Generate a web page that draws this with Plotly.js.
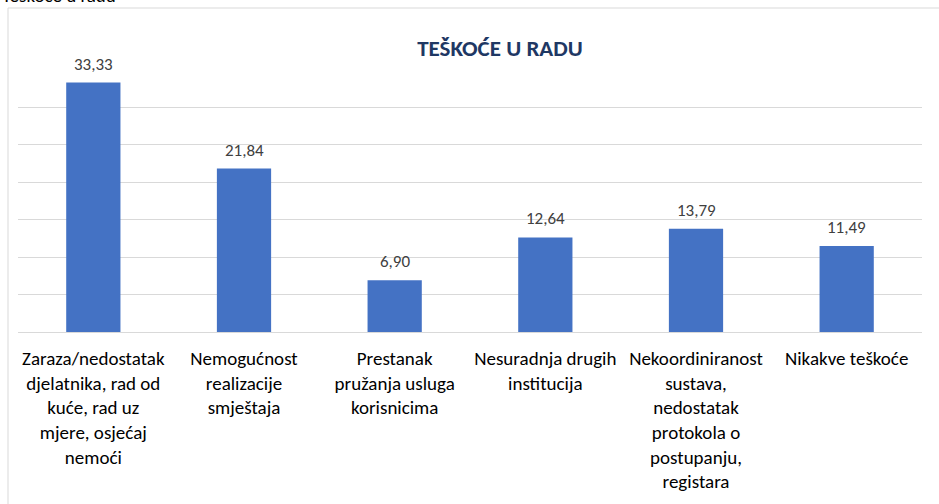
<!DOCTYPE html>
<html>
<head>
<meta charset="utf-8">
<script src="https://cdn.plot.ly/plotly-3.0.1.min.js"></script>
<style>html,body{margin:0;padding:0;background:#fff;}#chart{width:939px;height:504px;}</style>
</head>
<body>
<div id="chart"></div>
<script>
const categories = [
  "Zaraza/nedostatak<br>djelatnika, rad od<br>kuće, rad uz<br>mjere, osjećaj<br>nemoći",
  "Nemogućnost<br>realizacije<br>smještaja",
  "Prestanak<br>pružanja usluga<br>korisnicima",
  "Nesuradnja drugih<br>institucija",
  "Nekoordiniranost<br>sustava,<br>nedostatak<br>protokola o<br>postupanju,<br>registara",
  "Nikakve teškoće"
];
const values = [33.33, 21.84, 6.90, 12.64, 13.79, 11.49];
const chartTitle = "TEŠKOĆE U RADU";
const topText = "Teškoće u radu";

const FONT = "Carlito, Calibri, Lato, 'Liberation Sans', Arial, sans-serif";
const W = 939, H = 504;
const L = 18, R = 922, T = 70, B = 332;
const px = x => (x - L) / (R - L);
const py = y => (B - y) / (B - T);

const fmt = v => v.toFixed(2).replace('.', ',');

const trace = {
  type: 'bar',
  x: categories,
  y: values,
  marker: {color: '#4472C4'},
  width: 0.36,
  hoverinfo: 'skip'
};

const annotations = values.map((v, i) => ({
  x: categories[i], y: v, xref: 'x', yref: 'y',
  text: fmt(v), showarrow: false, yanchor: 'bottom', yshift: 6,
  font: {family: FONT, size: 17, color: '#404040'}
}));
annotations.push({
  xref: 'paper', yref: 'paper', x: px(0), y: py(9), xanchor: 'left', yanchor: 'bottom',
  text: topText, showarrow: false, font: {family: FONT, size: 19, color: '#000'}
});

const layout = {
  width: W, height: H,
  margin: {l: L, r: W - R, t: T, b: H - B, pad: 0},
  paper_bgcolor: '#fff', plot_bgcolor: '#fff',
  showlegend: false,
  title: {
    text: '<b>' + chartTitle + '</b>',
    x: 500 / W, xanchor: 'center', xref: 'container',
    y: 1 - 48 / H, yanchor: 'middle', yref: 'container',
    font: {family: FONT, size: 23, color: '#1F3864'}
  },
  xaxis: {
    type: 'category', showgrid: false, showline: true, linecolor: '#D9D9D9', linewidth: 1,
    ticks: '', tickangle: 0, ticklabelstandoff: 9,
    tickfont: {family: FONT, size: 19, color: '#000'}, fixedrange: true
  },
  yaxis: {
    range: [0, 35], dtick: 5, tick0: 0, showticklabels: false, showgrid: true,
    gridcolor: '#D9D9D9', gridwidth: 1, zeroline: false, showline: false, ticks: '', fixedrange: true
  },
  annotations: annotations,
  shapes: [{
    type: 'rect', xref: 'paper', yref: 'paper',
    x0: px(8), x1: px(980), y0: py(540), y1: py(8),
    line: {color: '#D9D9D9', width: 1}, fillcolor: 'rgba(0,0,0,0)', layer: 'below'
  }]
};

Plotly.newPlot('chart', [trace], layout, {displayModeBar: false, staticPlot: true});
</script>
</body>
</html>
